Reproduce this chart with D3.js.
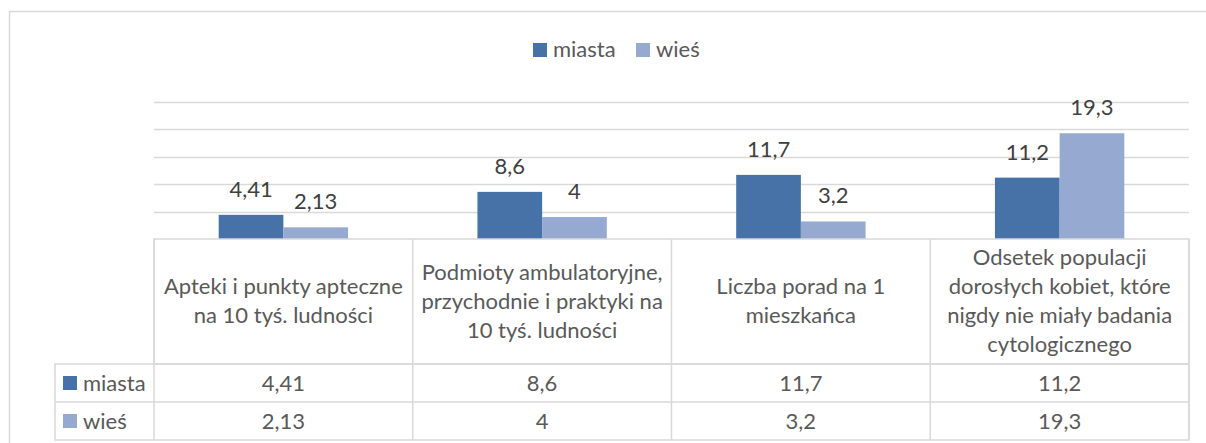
<!DOCTYPE html>
<html><head><meta charset="utf-8">
<script src="https://cdn.jsdelivr.net/npm/d3@7"></script>
<style>
body{margin:0;background:#fff}
text{font-family:Lato,"Open Sans",sans-serif}
</style></head>
<body><div id="chart"></div>
<script>
// dane
var categories = [
	["Apteki i punkty apteczne", "na 10 tyś. ludności"],
	["Podmioty ambulatoryjne,", "przychodnie i praktyki na", "10 tyś. ludności"],
	["Liczba porad na 1", "mieszkańca"],
	["Odsetek populacji", "dorosłych kobiet, które", "nigdy nie miały badania", "cytologicznego"]
];
var seriesNames = ["miasta", "wieś"];
var miasta = [4.41, 8.6, 11.7, 11.2];
var wies = [2.13, 4, 3.2, 19.3];
var gridTicks = [0, 5, 10, 15, 20, 25];

var values = [miasta, wies];
var colors = ["#4672a8", "#95a9d1"];
var fmt = function(v) { return String(v).replace(".", ","); };

var W = 1206, H = 443;
var plotLeft = 154, plotRight = 1189, plotBase = 239, plotTop = 102;
var tableLeft = 55, headBottom = 364, rowH = 38;

var svg = d3.select("#chart")
	.append("svg")
	.attr("width", W)
	.attr("height", H);

// ramka wykresu
svg.append("rect")
	.attr("x", 9.5).attr("y", 11.5)
	.attr("width", W).attr("height", H)
	.attr("fill", "none")
	.attr("stroke", "#d9d9d9")
	.attr("stroke-width", 1.5);

var x = d3.scaleBand()
	.domain(d3.range(categories.length))
	.range([plotLeft, plotRight]);

var xs = d3.scaleBand()
	.domain(d3.range(seriesNames.length))
	.range([0, x.bandwidth() / 2]);

var y = d3.scaleLinear()
	.domain([0, 25])
	.range([plotBase, plotTop]);

// linie siatki
svg.append("g")
	.selectAll("line")
	.data(gridTicks.slice(1))
	.enter().append("line")
	.attr("x1", plotLeft).attr("x2", plotRight)
	.attr("y1", function(d) { return Math.round(y(d)) + 0.5; })
	.attr("y2", function(d) { return Math.round(y(d)) + 0.5; })
	.attr("stroke", "#d9d9d9")
	.attr("stroke-width", 1.5);

// słupki
seriesNames.forEach(function(name, si) {
	var g = svg.append("g");
	g.selectAll("rect")
		.data(values[si])
		.enter().append("rect")
		.attr("x", function(d, i) { return x(i) + x.bandwidth() / 4 + xs(si); })
		.attr("y", function(d) { return y(d); })
		.attr("width", xs.bandwidth())
		.attr("height", function(d) { return plotBase - y(d); })
		.attr("fill", colors[si]);
	g.selectAll("text")
		.data(values[si])
		.enter().append("text")
		.attr("x", function(d, i) { return x(i) + x.bandwidth() / 4 + xs(si) + xs.bandwidth() / 2; })
		.attr("y", function(d) { return y(d) - 18; })
		.attr("text-anchor", "middle")
		.style("font-size", "22px")
		.style("fill", "#404040")
		.text(fmt);
});

// legenda
var legendX = [533, 636];
seriesNames.forEach(function(name, si) {
	svg.append("rect")
		.attr("x", legendX[si]).attr("y", 43)
		.attr("width", 14).attr("height", 14)
		.attr("fill", colors[si]);
	svg.append("text")
		.attr("x", legendX[si] + 20).attr("y", 57)
		.style("font-size", "22px")
		.style("fill", "#595959")
		.text(name);
});

// tabela danych
var tbl = svg.append("g")
	.attr("fill", "none")
	.attr("stroke", "#d9d9d9")
	.attr("stroke-width", 1.5);

tbl.append("rect")
	.attr("x", plotLeft).attr("y", plotBase)
	.attr("width", plotRight - plotLeft).attr("height", headBottom - plotBase);
tbl.append("rect")
	.attr("x", tableLeft).attr("y", headBottom)
	.attr("width", plotRight - tableLeft).attr("height", rowH * 2);
tbl.append("line")
	.attr("x1", tableLeft).attr("x2", plotRight)
	.attr("y1", headBottom + rowH).attr("y2", headBottom + rowH);
tbl.selectAll("line.v")
	.data(d3.range(categories.length + 1))
	.enter().append("line")
	.attr("class", "v")
	.attr("x1", function(i) { return i < categories.length ? x(i) : plotRight; })
	.attr("x2", function(i) { return i < categories.length ? x(i) : plotRight; })
	.attr("y1", plotBase).attr("y2", headBottom + rowH * 2);

// nagłówki kategorii
var headMid = (plotBase + headBottom) / 2 + 7;
categories.forEach(function(lines, i) {
	var t = svg.append("text")
		.attr("text-anchor", "middle")
		.style("font-size", "22px")
		.style("fill", "#595959");
	lines.forEach(function(l, j) {
		t.append("tspan")
			.attr("x", x(i) + x.bandwidth() / 2)
			.attr("y", headMid + (j - (lines.length - 1) / 2) * 29)
			.text(l);
	});
});

// wiersze z wartościami
seriesNames.forEach(function(name, si) {
	var cy = headBottom + rowH * si + rowH / 2;
	svg.append("rect")
		.attr("x", 63).attr("y", cy - 7)
		.attr("width", 14).attr("height", 14)
		.attr("fill", colors[si]);
	svg.append("text")
		.attr("x", 83).attr("y", cy + 7.5)
		.style("font-size", "22px")
		.style("fill", "#595959")
		.text(name);
	svg.append("g").selectAll("text")
		.data(values[si])
		.enter().append("text")
		.attr("x", function(d, i) { return x(i) + x.bandwidth() / 2; })
		.attr("y", cy + 7.5)
		.attr("text-anchor", "middle")
		.style("font-size", "22px")
		.style("fill", "#595959")
		.text(fmt);
});
</script></body></html>
